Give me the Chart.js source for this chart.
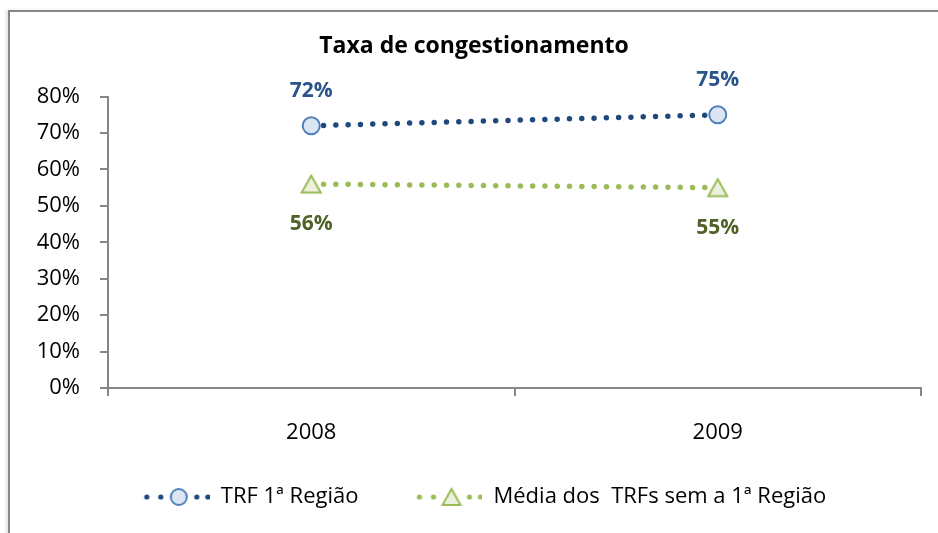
<!DOCTYPE html>
<html>
<head>
<meta charset="utf-8">
<script src="https://cdn.jsdelivr.net/npm/chart.js@4/dist/chart.umd.min.js"></script>
<style>
  html, body { margin: 0; padding: 0; background: #fff; }
  #frame { position: absolute; left: 8px; top: 10px; width: 940px; height: 530px;
           border-left: 2px solid #868686; border-top: 2px solid #868686;
           box-shadow: -2px 0 3px rgba(0,0,0,0.12); }
  #wrap { position: absolute; left: 0; top: 0; width: 938px; height: 533px; }
</style>
</head>
<body>
<div id="frame"></div>
<div id="wrap"><canvas id="c" width="938" height="533"></canvas></div>
<script>
const categories = ['2008', '2009'];
const seriesNames = ['TRF 1ª Região', 'Média dos  TRFs sem a 1ª Região'];
const trf1Values = [72, 75];
const mediaValues = [56, 55];
const yTicks = [0, 10, 20, 30, 40, 50, 60, 70, 80];
const chartTitle = 'Taxa de congestionamento';

const FONT = "'Open Sans', 'DejaVu Sans', sans-serif";
const BLUE_LINE = '#1F497D';
const BLUE_BORDER = '#4F81BD';
const BLUE_FILL = '#DCE6F2';
const BLUE_LABEL = '#2B548A';
const GREEN_LINE = '#9BBB59';
const GREEN_FILL = '#EBF1DE';
const GREEN_LABEL = '#4F6228';

function drawTriangle(g, x, y, w, h) {
  g.beginPath();
  g.moveTo(x, y - h / 2);
  g.lineTo(x + w / 2, y + h / 2);
  g.lineTo(x - w / 2, y + h / 2);
  g.closePath();
  g.fillStyle = GREEN_FILL; g.fill();
  g.lineWidth = 2; g.strokeStyle = GREEN_LINE; g.lineJoin = 'miter'; g.stroke();
}

// marker image for the green series (triangle centred on its box, like the original)
const triMarker = (() => {
  const c = document.createElement('canvas');
  c.width = 24; c.height = 22;
  drawTriangle(c.getContext('2d'), 12, 11, 19, 17);
  return c;
})();

function makeIcon(lineColor, drawMarker) {
  const c = document.createElement('canvas');
  c.width = 88; c.height = 26;
  const g = c.getContext('2d');
  g.fillStyle = lineColor;
  [25, 39, 75, 86].forEach(x => { g.beginPath(); g.arc(x, 13, 2.6, 0, Math.PI * 2); g.fill(); });
  drawMarker(g, 57, 13);
  return c;
}
const iconBlue = makeIcon(BLUE_LINE, (g, x, y) => {
  g.beginPath(); g.arc(x, y, 8, 0, Math.PI * 2);
  g.fillStyle = BLUE_FILL; g.fill();
  g.lineWidth = 2; g.strokeStyle = BLUE_BORDER; g.stroke();
});
const iconGreen = makeIcon(GREEN_LINE, (g, x, y) => drawTriangle(g, x, y, 18, 16));
const legendIcons = [iconBlue, iconGreen];

const labelPlugin = {
  id: 'valueLabels',
  afterDatasetsDraw(chart) {
    const ctx = chart.ctx;
    ctx.save();
    ctx.font = "bold 21px " + FONT;
    ctx.textAlign = 'center';
    ctx.textBaseline = 'middle';
    chart.data.datasets.forEach((ds, di) => {
      const meta = chart.getDatasetMeta(di);
      meta.data.forEach((pt, i) => {
        const off = di === 0 ? -35 : 40;
        ctx.fillStyle = di === 0 ? BLUE_LABEL : GREEN_LABEL;
        ctx.fillText(ds.data[i] + '%', pt.x, pt.y + off);
      });
    });
    ctx.restore();
  }
};

new Chart(document.getElementById('c'), {
  type: 'line',
  data: {
    labels: categories,
    datasets: [
      {
        label: seriesNames[0],
        data: trf1Values,
        borderColor: BLUE_LINE,
        borderWidth: 5.5,
        borderDash: [0, 12.3],
        borderCapStyle: 'round',
        fill: false,
        tension: 0,
        pointStyle: 'circle',
        pointRadius: 8.5,
        pointBorderWidth: 2,
        pointBackgroundColor: BLUE_FILL,
        pointBorderColor: BLUE_BORDER
      },
      {
        label: seriesNames[1],
        data: mediaValues,
        borderColor: GREEN_LINE,
        borderWidth: 5.5,
        borderDash: [0, 12.3],
        borderCapStyle: 'round',
        fill: false,
        tension: 0,
        pointStyle: triMarker,
        pointRadius: 11,
        pointBackgroundColor: GREEN_FILL,
        pointBorderColor: GREEN_LINE
      }
    ]
  },
  options: {
    responsive: false,
    animation: false,
    devicePixelRatio: 1,
    clip: false,
    layout: { padding: { left: 27, right: 17, top: 0, bottom: 15 } },
    plugins: {
      tooltip: { enabled: false },
      title: {
        display: true,
        text: chartTitle,
        color: '#000',
        font: { family: FONT, size: 23, weight: 'bold', lineHeight: 1.2 },
        padding: { top: 33, bottom: 36 }
      },
      legend: {
        display: true,
        position: 'bottom',
        labels: {
          usePointStyle: true,
          pointStyleWidth: 88,
          padding: 36,
          color: '#000',
          font: { family: FONT, size: 22 },
          generateLabels: (chart) => chart.data.datasets.map((ds, i) => ({
            text: ds.label,
            pointStyle: legendIcons[i],
            datasetIndex: i,
            hidden: false,
            lineWidth: 0,
            fillStyle: 'rgba(0,0,0,0)',
            strokeStyle: 'rgba(0,0,0,0)',
            fontColor: '#000'
          }))
        }
      }
    },
    scales: {
      x: {
        type: 'category',
        offset: true,
        grid: { display: true, offset: true, drawOnChartArea: false, drawTicks: true, tickLength: 8, color: '#868686', lineWidth: 2 },
        border: { display: true, color: '#868686', width: 2 },
        ticks: { color: '#000', padding: 24, font: { family: FONT, size: 22 } },
        afterFit(scale) { scale.height = 62; }
      },
      y: {
        min: 0,
        max: 80,
        afterBuildTicks(scale) { scale.ticks = yTicks.map(v => ({ value: v })); },
        grid: { display: true, drawOnChartArea: false, drawTicks: true, tickLength: 8, color: '#868686', lineWidth: 2 },
        border: { display: true, color: '#868686', width: 2 },
        ticks: { color: '#000', padding: 20, font: { family: FONT, size: 22 }, callback: (v) => v + '%' },
        afterFit(scale) { scale.width = 81; }
      }
    }
  },
  plugins: [labelPlugin]
});
</script>
</body>
</html>
